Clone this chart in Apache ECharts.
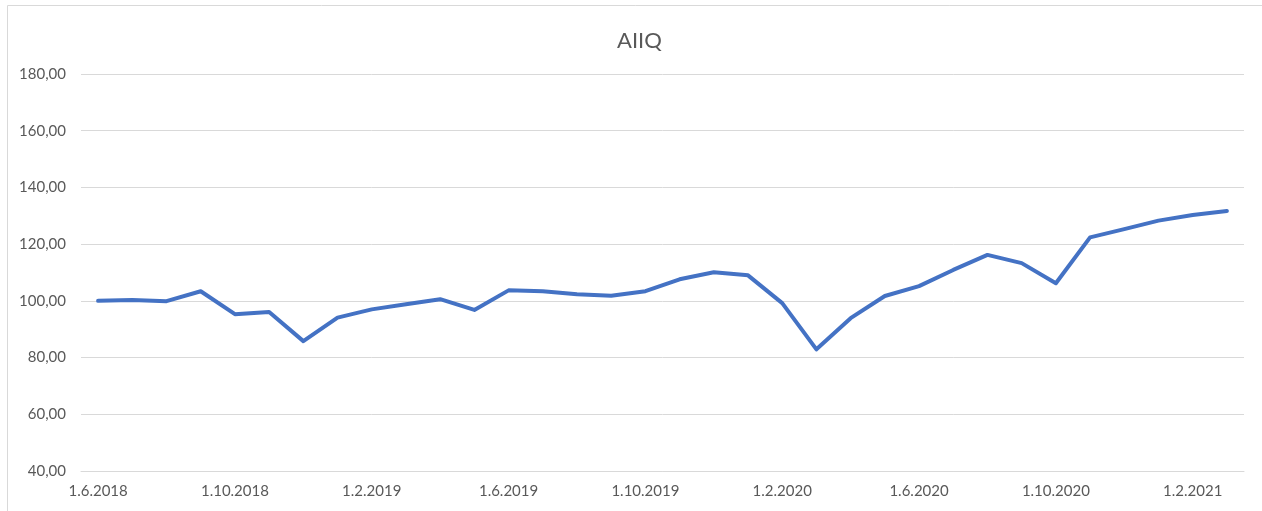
<!DOCTYPE html>
<html>
<head>
<meta charset="utf-8">
<script src="https://cdn.jsdelivr.net/npm/echarts@6/dist/echarts.min.js"></script>
<style>
  html, body { margin: 0; padding: 0; background: #fff; }
  #chart { width: 1262px; height: 511px; }
</style>
</head>
<body>
<div id="chart"></div>
<script>
// monthly index, 1.6.2018 .. 1.3.2021
const months = [
  '1.6.2018', '1.7.2018', '1.8.2018', '1.9.2018', '1.10.2018', '1.11.2018', '1.12.2018',
  '1.1.2019', '1.2.2019', '1.3.2019', '1.4.2019', '1.5.2019', '1.6.2019', '1.7.2019',
  '1.8.2019', '1.9.2019', '1.10.2019', '1.11.2019', '1.12.2019', '1.1.2020', '1.2.2020',
  '1.3.2020', '1.4.2020', '1.5.2020', '1.6.2020', '1.7.2020', '1.8.2020', '1.9.2020',
  '1.10.2020', '1.11.2020', '1.12.2020', '1.1.2021', '1.2.2021', '1.3.2021'
]
const aiiq = [
  100.0, 100.3, 99.9, 103.4, 95.3, 96.1, 85.8,
  94.1, 97.0, 98.8, 100.6, 96.8, 103.7, 103.4,
  102.3, 101.8, 103.4, 107.6, 110.1, 109.0, 99.2,
  82.9, 93.9, 101.7, 105.2, 110.9, 116.2, 113.3,
  106.2, 122.4, 125.3, 128.3, 130.3, 131.7
]
const yMin = 40
const yMax = 180
const yStep = 20

const myChart = echarts.init(document.getElementById('chart'))
const font = 'Lato, "Open Sans", sans-serif'
const option = {
  animation: false,
  title: {
    text: 'AIIQ',
    left: 612,
    top: 25,
    textStyle: {
      color: '#595959',
      fontSize: 22,
      fontWeight: 'normal',
      fontFamily: font
    }
  },
  graphic: [{
    type: 'rect',
    shape: { x: 7.5, y: 5.5, width: 1300, height: 600 },
    style: { fill: 'none', stroke: '#d9d9d9', lineWidth: 1 },
    silent: true
  }],
  grid: {
    left: 81,
    right: 18,
    top: 74,
    bottom: 40
  },
  xAxis: {
    type: 'category',
    data: months,
    boundaryGap: true,
    axisLine: { lineStyle: { color: '#d9d9d9', width: 1 } },
    axisTick: { interval: 3, length: 5, lineStyle: { color: '#d9d9d9' } },
    axisLabel: {
      interval: 3,
      margin: 13,
      color: '#595959',
      fontSize: 15,
      fontFamily: font
    }
  },
  yAxis: {
    type: 'value',
    min: yMin,
    max: yMax,
    interval: yStep,
    axisLine: { show: false },
    axisTick: { show: false },
    splitLine: { lineStyle: { color: '#d9d9d9', width: 1 } },
    axisLabel: {
      margin: 15,
      color: '#595959',
      fontSize: 15,
      fontFamily: font,
      formatter: v => v.toFixed(2).replace('.', ',')
    }
  },
  series: [{
    name: 'AIIQ',
    type: 'line',
    data: aiiq,
    symbol: 'none',
    smooth: false,
    lineStyle: { color: '#4472C4', width: 4, cap: 'round', join: 'round' }
  }]
}
myChart.setOption(option)
</script>
</body>
</html>
